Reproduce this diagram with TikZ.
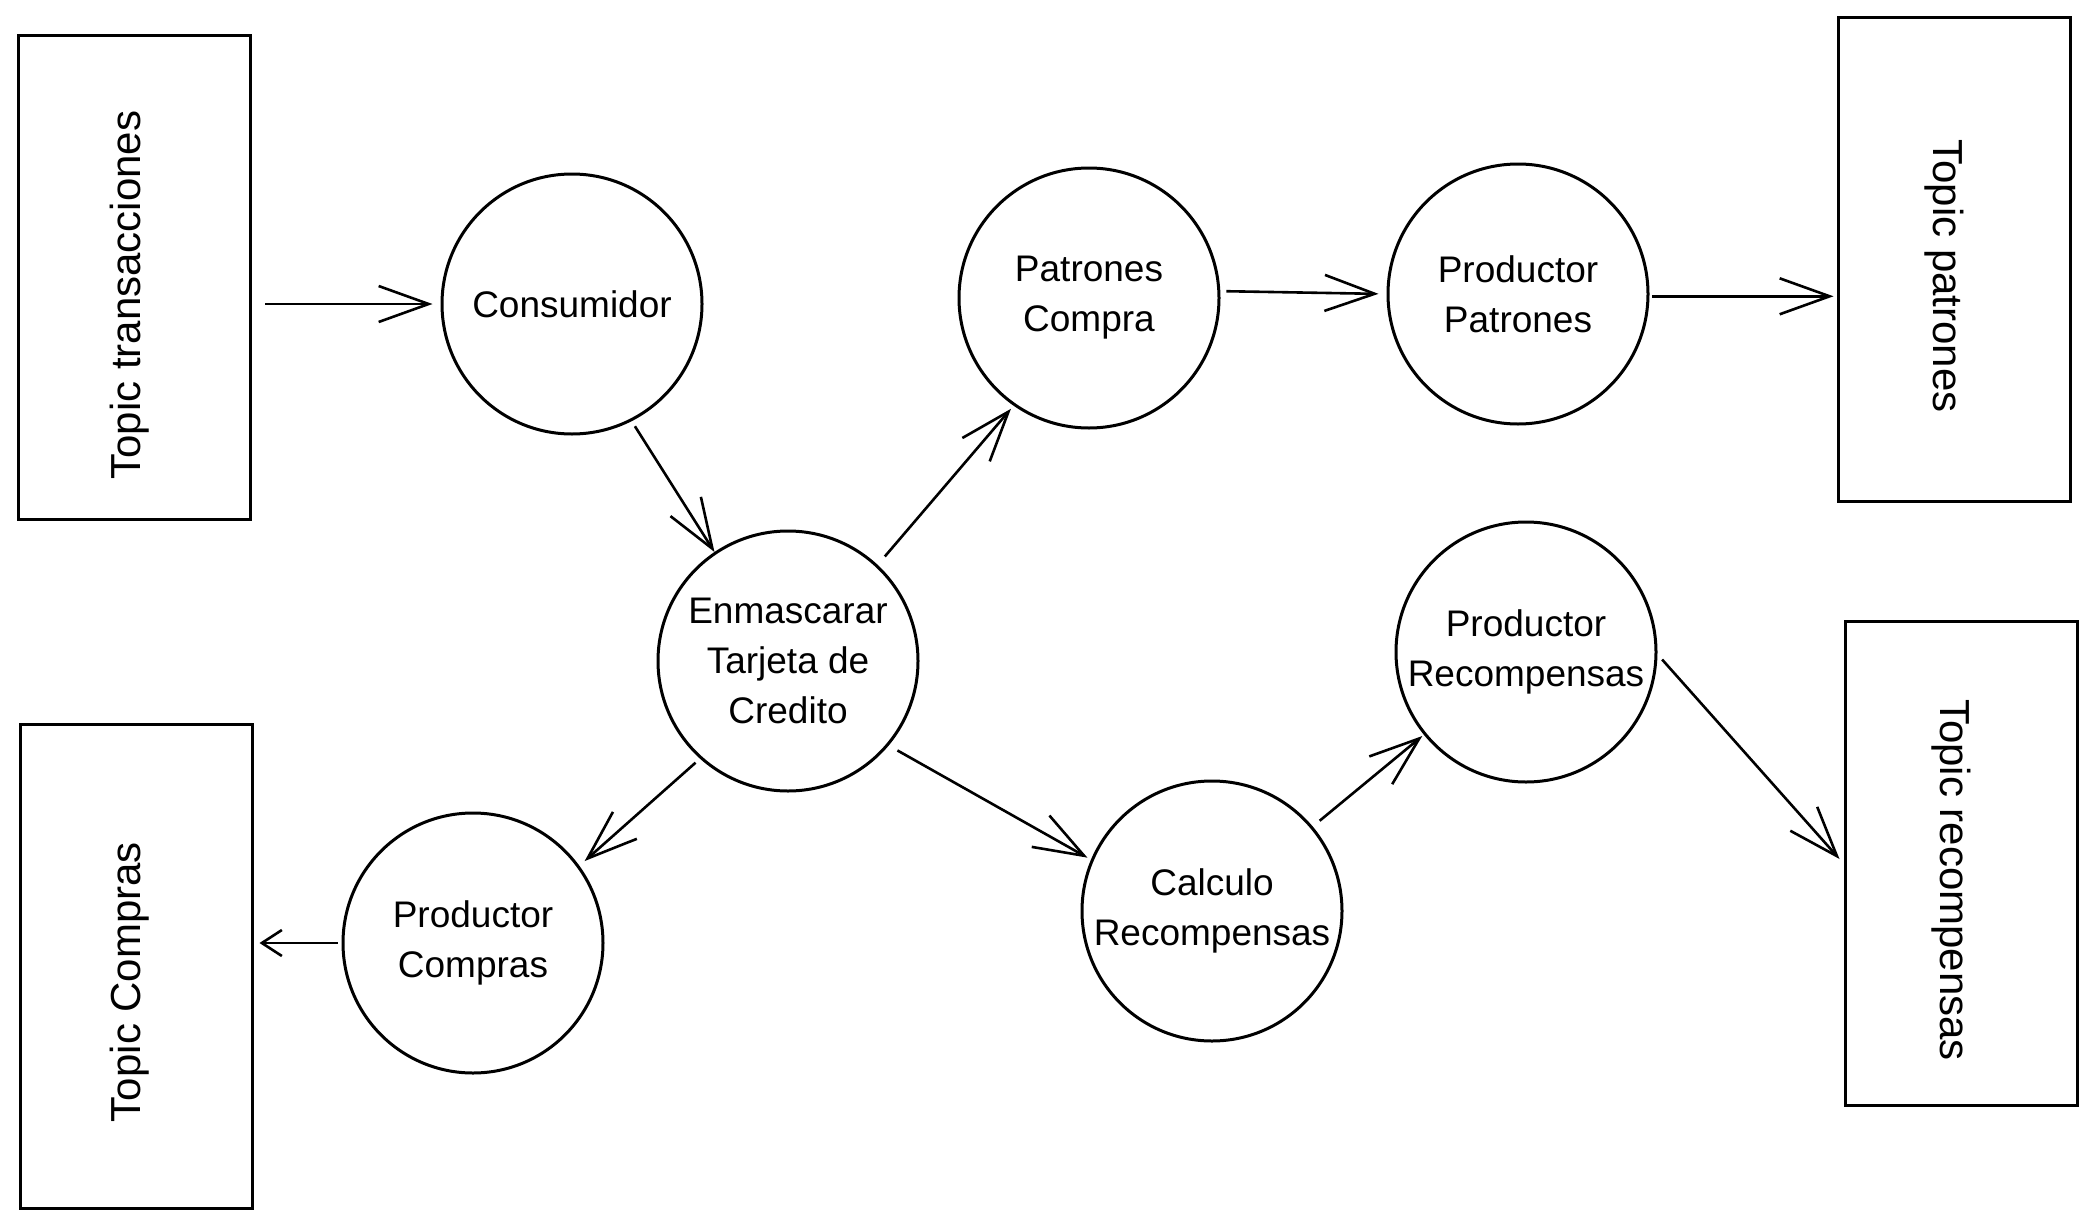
\documentclass[tikz,border=0pt]{standalone}
\usepackage{fontspec}
\setmainfont{Liberation Sans}
\usetikzlibrary{arrows.meta,calc}
\begin{document}
\begin{tikzpicture}[x=0.5pt,y=-0.5pt,
  proc/.style={circle,draw,line width=1.5pt,minimum size=130pt,inner sep=0pt,align=center,font=\fontsize{18.5}{25}\selectfont},
  topic/.style={draw,line width=1.5pt,inner sep=0pt,minimum width=116pt,minimum height=242pt},
  tlabel/.style={font=\fontsize{21}{25}\selectfont},
  flow/.style={line width=1.3pt,-{Straight Barb[length=25pt,width=18pt,line width=1.3pt]}},
  smallflow/.style={line width=1.3pt,-{Straight Barb[length=10pt,width=13pt,line width=1.3pt]}}]
\useasboundingbox (0,0) rectangle (2095,1226);
% topics
\node[topic] (t1) at (134.5,277) {};
\node[topic] (t2) at (136,966) {};
\node[topic] (t3) at (1954,259.5) {};
\node[topic] (t4) at (1961,863.5) {};
\node[tlabel,rotate=90] (l1) at (130,295) {Topic transacciones};
\node[tlabel,rotate=90] (l2) at (130,982) {Topic Compras};
\node[tlabel,rotate=-90] (l3) at (1944,276) {Topic patrones};
\node[tlabel,rotate=-90] (l4) at (1951,880) {Topic recompensas};
% processes
\node[proc] (cons) at (572,304) {Consumidor};
\node[proc] (pat) at (1089,298) {Patrones\\Compra};
\node[proc] (ppat) at (1518,294) {Productor\\Patrones};
\node[proc] (enm) at (788,661) {Enmascarar\\Tarjeta de\\Credito};
\node[proc] (prec) at (1526,652) {Productor\\Recompensas};
\node[proc] (pcom) at (473,943) {Productor\\Compras};
\node[proc] (calc) at (1212,911) {Calculo\\Recompensas};
% connectors
\draw[flow,shorten <=6.5pt,shorten >=4pt] (t1.east |- cons.west) -- (cons.west);
\draw[flow,shorten <=3pt] (cons.-63.4) -- (enm.124.3);
\draw[flow,shorten <=5.5pt,shorten >=2pt] (enm.47.3) -- (pat.-125.6);
\draw[flow,shorten <=3pt,shorten >=4pt] (pat.3) -- (ppat.180);
\draw[flow,shorten <=1.5pt,shorten >=1.5pt] (ppat.-1) -- (t3.west |- ppat.-1);
\draw[flow,shorten <=3pt,shorten >=3.5pt] (enm.-132) -- (pcom.36.1);
\draw[smallflow,shorten <=2pt,shorten >=3pt] (pcom.west) -- (t2.east |- pcom.west);
\draw[flow,shorten <=5pt,shorten >=2pt] (enm.-40) -- (calc.157);
\draw[flow,shorten <=4.5pt,shorten >=1pt] (calc.40.9) -- (prec.-141.1);
\draw[flow,shorten <=3.5pt,shorten >=3pt] (prec.-1.7) -- (t4.west);
\end{tikzpicture}
\end{document}
